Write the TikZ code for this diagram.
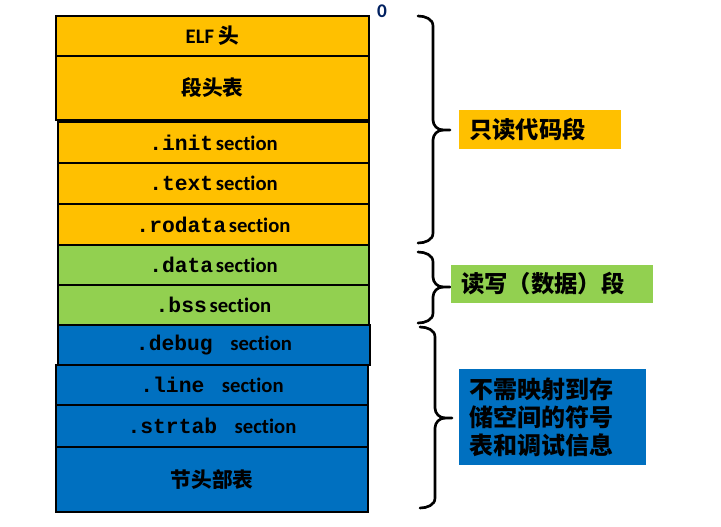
\documentclass[tikz,border=0pt]{standalone}
\usepackage{fontspec}
\setmainfont{Carlito}[Ligatures=NoCommon]
\newfontfamily\cjk{Noto Sans CJK SC}
\newfontfamily\mono{Liberation Mono}
\definecolor{segorange}{HTML}{FFC000}
\definecolor{seggreen}{HTML}{92D050}
\definecolor{segblue}{HTML}{0070C0}
\definecolor{zeroblue}{HTML}{002060}
\newcommand\secword{sec\kern0pt tion}
\newcommand\mn[1]{{\mono\fontsize{16}{18}\selectfont #1}}
\begin{document}
\begin{tikzpicture}[x=0.75pt,y=-0.75pt,
  seg/.style={draw=black, line width=1.8pt, inner sep=0pt, font=\bfseries\fontsize{15.5}{18}\selectfont},
  lbl/.style={inner xsep=7.5pt, inner ysep=0pt, align=left, font=\cjk\bfseries\fontsize{17.5}{21}\selectfont},
  brace/.style={line width=2pt, line cap=round, line join=round}]
\useasboundingbox (0,0) rectangle (721,526);
% segments
\node[seg, fill=segorange, minimum width=313*0.75pt, minimum height=40*0.75pt] (elf) at (212.5,36) {ELF {\cjk 头}};
\node[seg, fill=segorange, minimum width=313*0.75pt, minimum height=64*0.75pt] (phdr) at (212.5,88) {\cjk\fontsize{15.5}{18}\selectfont 段头表};
\node[seg, fill=segorange, minimum width=311*0.75pt, minimum height=41*0.75pt] (init) at (213.5,142.5) {\mn{.init}\hspace{2pt}\secword};
\node[seg, fill=segorange, minimum width=311*0.75pt, minimum height=41*0.75pt] (text) at (213.5,183.5) {\mn{.text}\hspace{2pt}\secword};
\node[seg, fill=segorange, minimum width=311*0.75pt, minimum height=41*0.75pt] (rodata) at (213.5,224.5) {\mn{.rodata}\hspace{2pt}\secword};
\node[seg, fill=seggreen, minimum width=311*0.75pt, minimum height=40*0.75pt] (data) at (213.5,265) {\mn{.data}\hspace{2pt}\secword};
\node[seg, fill=seggreen, minimum width=311*0.75pt, minimum height=40*0.75pt] (bss) at (213.5,305) {\mn{.bss}\hspace{2pt}\secword};
\node[seg, fill=segblue, minimum width=312*0.75pt, minimum height=40*0.75pt] (debug) at (214,345) {\mn{.debug\ }\ \secword};
\node[seg, fill=segblue, minimum width=312*0.75pt, minimum height=40*0.75pt] (line) at (212,385) {\mn{.line\ }\ \secword};
\node[seg, fill=segblue, minimum width=312*0.75pt, minimum height=42*0.75pt] (strtab) at (212,426) {\mn{.strtab\ }\ \secword};
\node[seg, fill=segblue, minimum width=312*0.75pt, minimum height=65*0.75pt] (shdr) at (212,479.5) {\cjk\fontsize{15.5}{18}\selectfont 节头部表};
\node[text=zeroblue, font=\bfseries\fontsize{14.5}{16}\selectfont, inner sep=0pt] (zero) at (382,11) {0};
% braces
\draw[brace] (418,16) to[out=0,in=90] (433,26) -- (433,120) to[out=-90,in=180] (443,130) -- (450,130);
\draw[brace] (443,130) to[out=180,in=90] (433,140) -- (433,233) to[out=-90,in=0] (418,243);
\draw[brace] (418,252) to[out=0,in=90] (433,262) -- (433,277) to[out=-90,in=180] (443,287) -- (450,287);
\draw[brace] (443,287) to[out=180,in=90] (433,297) -- (433,313) to[out=-90,in=0] (418,323);
\draw[brace] (420,327) to[out=0,in=90] (435,337) -- (435,408) to[out=-90,in=180] (445,418) -- (452,418);
\draw[brace] (445,418) to[out=180,in=90] (435,428) -- (435,498) to[out=-90,in=0] (420,508);
% labels
\node[lbl, fill=segorange, text width=142*0.75pt, minimum height=39*0.75pt] (ro) at (540,129.5) {只读代码段};
\node[lbl, fill=seggreen, text width=182*0.75pt, minimum height=38*0.75pt] (rw) at (552,284) {读写（数据）段};
\node[lbl, fill=segblue, text width=167*0.75pt, minimum height=96*0.75pt, font=\cjk\bfseries\fontsize{18}{21}\selectfont] (nm) at (552.5,417) {不需映射到存\\储空间的符号\\表和调试信息};
\end{tikzpicture}
\end{document}
